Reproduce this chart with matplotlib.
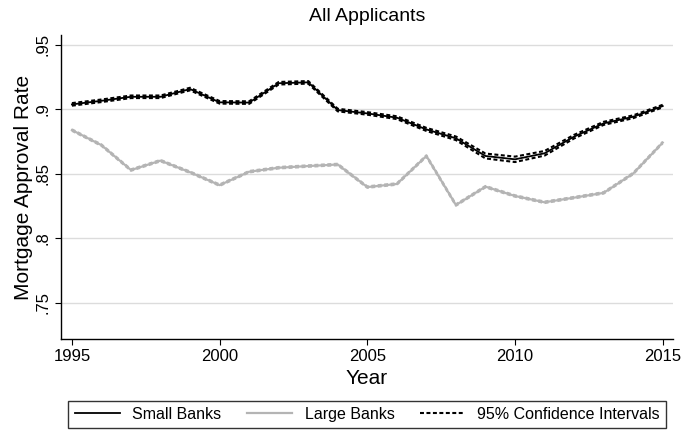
import matplotlib
matplotlib.use('Agg')
import matplotlib.pyplot as plt
import numpy as np

plt.rcParams['font.family'] = ['Liberation Sans', 'DejaVu Sans']

# Approval rates by year
years = np.arange(1995, 2016)
small = [0.9036, 0.9064, 0.9095, 0.9095, 0.9155, 0.9052, 0.9050, 0.9200,
         0.9207, 0.8992, 0.8966, 0.8933, 0.8842, 0.8773, 0.8636, 0.8610,
         0.8657, 0.8786, 0.8889, 0.8940, 0.9023]
large = [0.8837, 0.8720, 0.8527, 0.8600, 0.8510, 0.8410, 0.8514, 0.8545,
         0.8558, 0.8570, 0.8395, 0.8419, 0.8636, 0.8256, 0.8398, 0.8326,
         0.8277, 0.8313, 0.8350, 0.8500, 0.8740]
# half-widths of the 95% intervals
small_ci = [0.0010, 0.0010, 0.0010, 0.0010, 0.0010, 0.0010, 0.0010, 0.0010,
            0.0010, 0.0010, 0.0010, 0.0011, 0.0012, 0.0014, 0.0019, 0.0021,
            0.0018, 0.0014, 0.0012, 0.0011, 0.0010]
large_ci = [0.0006] * 21

small = np.array(small)
large = np.array(large)
small_ci = np.array(small_ci)
large_ci = np.array(large_ci)

fig = plt.figure(figsize=(6.83, 4.30), dpi=100)
ax = fig.add_axes([0.0893, 0.2116, 0.8957, 0.707])

dash = (1.9, 1.2)
ax.plot(years, large - large_ci, color='#b4b4b4', lw=1.5, dashes=dash)
ax.plot(years, large + large_ci, color='#b4b4b4', lw=1.5, dashes=dash)
ax.plot(years, large, color='#b4b4b4', lw=1.6, label='Large Banks')

ax.plot(years, small - small_ci, color='black', lw=1.5, dashes=dash,
        label='95% Confidence Intervals')
ax.plot(years, small + small_ci, color='black', lw=1.5, dashes=dash)
ax.plot(years, small, color='black', lw=1.3, label='Small Banks')

ax.set_xlim(1994.63, 2015.34)
ax.set_ylim(0.7217, 0.9574)
ax.set_xticks([1995, 2000, 2005, 2010, 2015])
ax.set_yticks([0.75, 0.8, 0.85, 0.9, 0.95])
ax.set_yticklabels(['.75', '.8', '.85', '.9', '.95'], rotation=90, va='center')
ax.tick_params(axis='both', labelsize=12, length=4, width=0.8, color='black')
ax.grid(axis='y', color='#dcdcdc', lw=1)
ax.set_axisbelow(True)
for s in ['top', 'right']:
    ax.spines[s].set_visible(False)
ax.spines['left'].set_linewidth(1)
ax.spines['bottom'].set_linewidth(1)

ax.set_title('All Applicants', fontsize=14, pad=10)
ax.set_ylabel('Mortgage Approval Rate', fontsize=15, labelpad=2)
ax.set_xlabel('Year', fontsize=15, labelpad=3)

handles, labels = ax.get_legend_handles_labels()
order = [labels.index(k) for k in ['Small Banks', 'Large Banks', '95% Confidence Intervals']]
leg = fig.legend([handles[i] for i in order], [labels[i] for i in order],
                 loc='lower center', bbox_to_anchor=(0.538, 0.004),
                 ncol=3, fontsize=11.5, frameon=True, fancybox=False,
                 edgecolor='#333333', framealpha=1, handlelength=2.8,
                 borderaxespad=0, handletextpad=0.8, columnspacing=1.6,
                 borderpad=0.4)
leg.get_frame().set_linewidth(1.0)

fig.savefig('out.png', dpi=100)
